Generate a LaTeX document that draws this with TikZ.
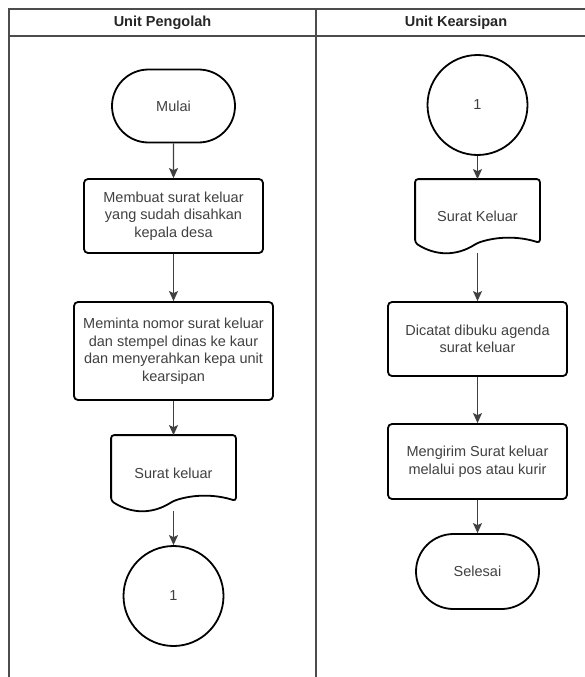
\documentclass[tikz,border=0pt]{standalone}
\usepackage{fontspec}
\setmainfont{Liberation Sans}
\usetikzlibrary{shapes.misc,arrows.meta,calc}

\tikzset{
  lane/.style={draw=black!70, line width=1.2pt},
  head/.style={font=\fontsize{14.5}{17.5}\selectfont\bfseries, text=black!85},
  shape_base/.style={draw=black, line width=1.8pt, align=center, inner sep=0pt,
    text=black!75, font=\fontsize{14.5}{17.5}\selectfont},
  term/.style={shape_base, rounded rectangle, minimum width=123pt, minimum height=73pt},
  proc/.style={shape_base, rectangle, rounded corners=4pt},
  conn/.style={shape_base, circle, minimum size=100pt},
  docbox/.style={shape_base, draw=none, rectangle, minimum width=123pt, minimum height=73pt},
  outline/.style={draw=black, line width=1.8pt, rounded corners=3pt},
  arrow/.style={draw=black!75, line width=1.2pt, -{Stealth[length=10pt,width=9pt,inset=2pt]}}
}

\begin{document}
\begin{tikzpicture}[x=1pt,y=-1pt]
  \useasboundingbox (0,0) rectangle (585,677);

  % swimlanes
  \draw[lane] (9,677) -- (9,9) -- (585,9);
  \draw[lane] (9,36) -- (585,36);
  \draw[lane] (316,9) -- (316,677);
  \node[head] (h_1) at (162.5,22.5) {Unit Pengolah};
  \node[head] (h_2) at (456,22.5) {Unit Kearsipan};

  % unit pengolah
  \node[term] (start) at (173.5,106) {Mulai};
  \node[proc, minimum width=179pt, minimum height=74pt] (p_1) at (173.5,216) {Membuat surat keluar\\yang sudah disahkan\\kepala desa};
  \node[proc, minimum width=199pt, minimum height=98pt] (p_2) at (173.5,351) {Meminta nomor surat keluar\\dan stempel dinas ke kaur\\dan menyerahkan kepa unit\\kearsipan};
  \node[docbox, minimum height=74pt] (d_1) at (173.5,473) {Surat keluar};
  \node[conn] (c_1) at (173.5,596) {1};

  \draw[outline] (d_1.north west) -- (d_1.north east) -- ($(d_1.south east)+(0,-10)$)
    .. controls ($(d_1.south east)!1/6!(d_1.south west)+(0,-16.7)$) and ($(d_1.south east)!1/3!(d_1.south west)+(0,-16.7)$) .. ($(d_1.south)+(0,-10)$)
    .. controls ($(d_1.south east)!2/3!(d_1.south west)+(0,3.3)$) and ($(d_1.south east)!5/6!(d_1.south west)+(0,3.3)$) .. ($(d_1.south west)+(0,-10)$)
    -- cycle;

  % unit kearsipan
  \node[conn] (c_2) at (477.5,105) {1};
  \node[docbox, minimum height=72pt] (d_2) at (477.5,216) {Surat Keluar};
  \node[proc, minimum width=179pt, minimum height=74pt] (p_3) at (477.5,339) {Dicatat dibuku agenda\\surat keluar};
  \node[proc, minimum width=179pt, minimum height=75pt] (p_4) at (477.5,461.5) {Mengirim Surat keluar\\melalui pos atau kurir};
  \node[term, minimum height=75pt] (stop) at (477.5,571.5) {Selesai};

  \draw[outline] (d_2.north west) -- (d_2.north east) -- ($(d_2.south east)+(0,-10)$)
    .. controls ($(d_2.south east)!1/6!(d_2.south west)+(0,-16.7)$) and ($(d_2.south east)!1/3!(d_2.south west)+(0,-16.7)$) .. ($(d_2.south)+(0,-10)$)
    .. controls ($(d_2.south east)!2/3!(d_2.south west)+(0,3.3)$) and ($(d_2.south east)!5/6!(d_2.south west)+(0,3.3)$) .. ($(d_2.south west)+(0,-10)$)
    -- cycle;

  \draw[arrow] (start) -- (p_1);
  \draw[arrow] (p_1) -- (p_2);
  \draw[arrow] (p_2) -- (d_1);
  \draw[arrow] (d_1) -- (c_1);

  \draw[arrow] (c_2) -- (d_2);
  \draw[arrow] (d_2) -- (p_3);
  \draw[arrow] (p_3) -- (p_4);
  \draw[arrow] (p_4) -- (stop);
\end{tikzpicture}
\end{document}
